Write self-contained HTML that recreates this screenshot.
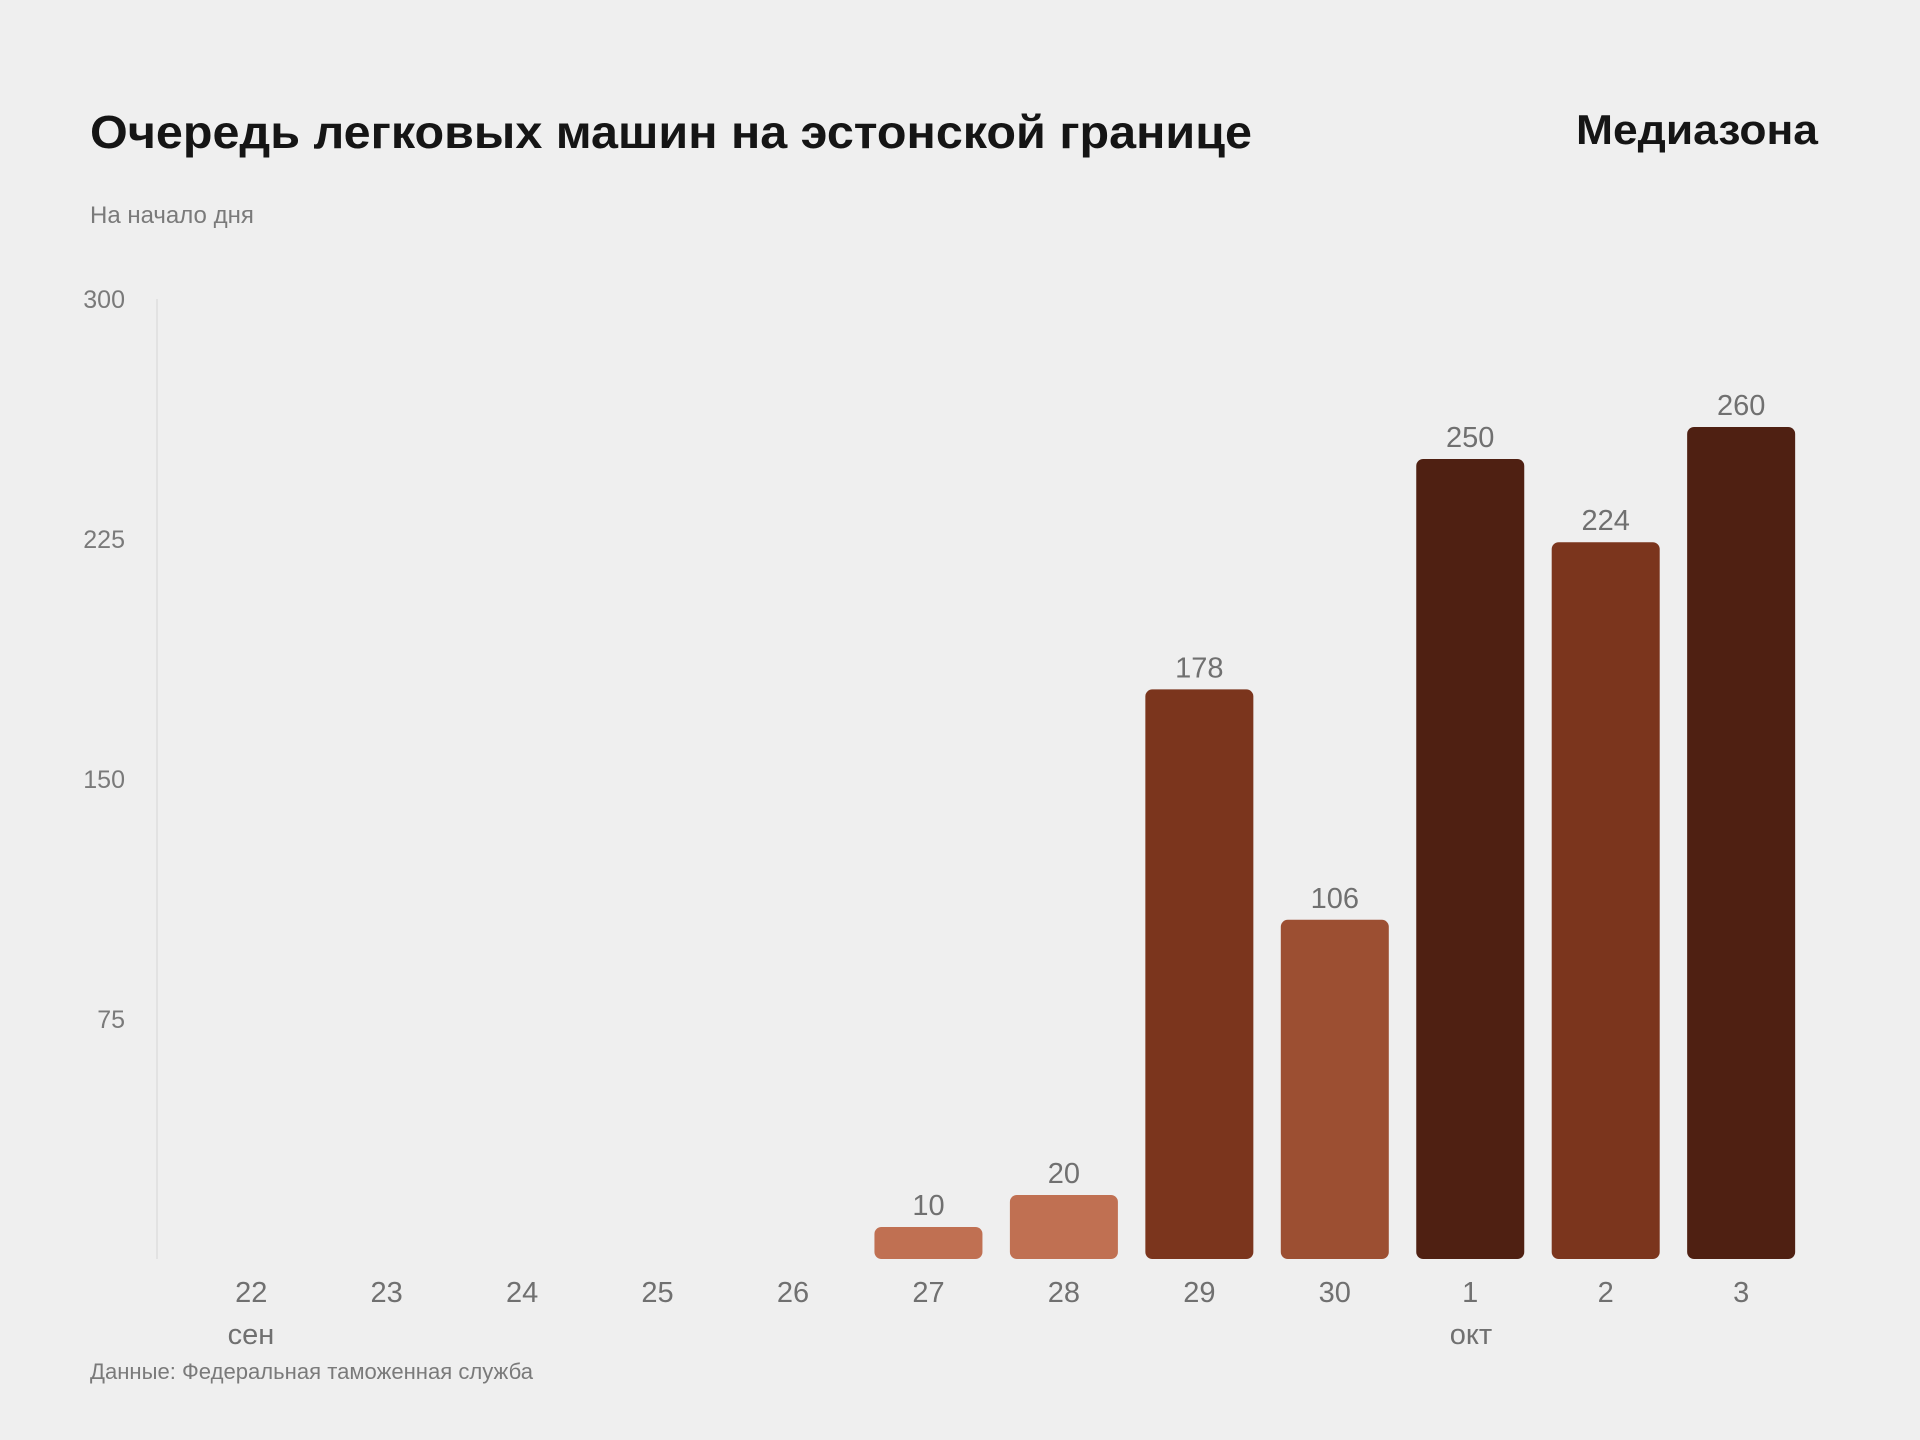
<!DOCTYPE html>
<html><head><meta charset="utf-8">
<style>
html,body{margin:0;padding:0;background:#efefef;}
svg{display:block;font-family:"Liberation Sans",sans-serif;}
</style></head>
<body>
<svg id="chart" width="1920" height="1440" viewBox="0 0 1920 1440">
<rect width="1920" height="1440" fill="#efefef"/>
<text x="90" y="148" font-size="46" font-weight="bold" fill="#151515" textLength="1162" lengthAdjust="spacingAndGlyphs">Очередь легковых машин на эстонской границе</text>
<text x="1818" y="144" text-anchor="end" font-size="42" font-weight="bold" fill="#151515" textLength="242" lengthAdjust="spacingAndGlyphs">Медиазона</text>
<text x="90" y="223" font-size="24" fill="#7a7a7a">На начало дня</text>
<line x1="157" y1="299" x2="157" y2="1259" stroke="#e2e2e2" stroke-width="2"/>
<g id="yticks"></g>
<g id="bars"></g>
<g id="xlabels"></g>
<text x="251" y="1344" text-anchor="middle" font-size="29" fill="#707070">сен</text>
<text x="1471" y="1344" text-anchor="middle" font-size="29" fill="#707070">окт</text>
<text x="90" y="1379" font-size="22" fill="#7a7a7a" textLength="443" lengthAdjust="spacingAndGlyphs">Данные: Федеральная таможенная служба</text>
</svg>
<script>
const categories = ["22","23","24","25","26","27","28","29","30","1","2","3"];
const values = [0,0,0,0,0,10,20,178,106,250,224,260];
const yTicks = [75,150,225,300];

const NS = "http://www.w3.org/2000/svg";
const y0 = 1259, yTop = 299, yMax = 300;
const x0 = 251.2, step = 135.45, barW = 108;
function yScale(v){ return y0 - (v / yMax) * (y0 - yTop); }
function xScale(i){ return x0 + i * step; }
function colorFor(v){
  if (v < 50) return "#c07052";
  if (v < 150) return "#9c4f32";
  if (v < 240) return "#7b351d";
  return "#4f2012";
}
const yg = document.getElementById("yticks");
yTicks.forEach(t => {
  const el = document.createElementNS(NS, "text");
  el.setAttribute("x", 125);
  el.setAttribute("y", yScale(t) + 9);
  el.setAttribute("text-anchor", "end");
  el.setAttribute("font-size", "25");
  el.setAttribute("fill", "#7a7a7a");
  el.textContent = t;
  
  
  yg.appendChild(el);
});
const bg = document.getElementById("bars");
const xg = document.getElementById("xlabels");
categories.forEach((c, i) => {
  const v = values[i];
  const cx = xScale(i);
  if (v > 0) {
    const r = document.createElementNS(NS, "rect");
    r.setAttribute("x", cx - barW / 2);
    r.setAttribute("y", yScale(v));
    r.setAttribute("width", barW);
    r.setAttribute("height", y0 - yScale(v));
    r.setAttribute("rx", 7);
    r.setAttribute("fill", colorFor(v));
    
    
    bg.appendChild(r);
    const t = document.createElementNS(NS, "text");
    t.setAttribute("x", cx);
    t.setAttribute("y", yScale(v) - 12);
    t.setAttribute("text-anchor", "middle");
    t.setAttribute("font-size", "29");
    t.setAttribute("fill", "#707070");
    t.textContent = v;
    
    
    bg.appendChild(t);
  }
  const xl = document.createElementNS(NS, "text");
  xl.setAttribute("x", cx);
  xl.setAttribute("y", 1302);
  xl.setAttribute("text-anchor", "middle");
  xl.setAttribute("font-size", "29");
  xl.setAttribute("fill", "#707070");
  xl.textContent = c;
  
  
  xg.appendChild(xl);
});
</script>
</body></html>
